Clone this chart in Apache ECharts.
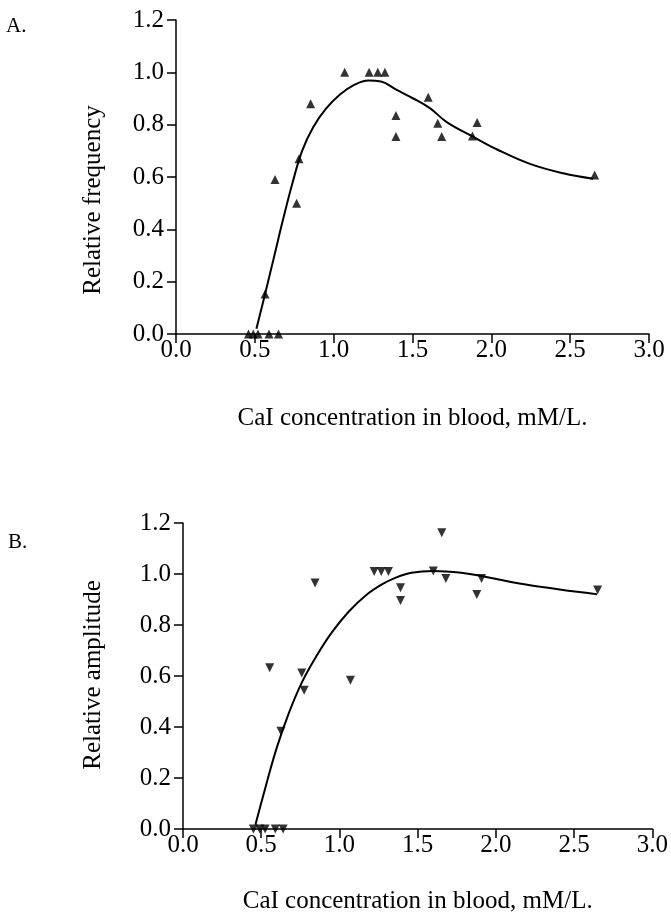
<!DOCTYPE html>
<html>
<head>
<meta charset="utf-8">
<script src="https://cdn.jsdelivr.net/npm/echarts@6/dist/echarts.min.js"></script>
<style>
  html, body { margin: 0; padding: 0; background: #fff; }
  #chart { width: 671px; height: 915px; }
</style>
</head>
<body>
<div id="chart"></div>
<script>
// A. relative frequency (measured points)
const freqX = [0.46, 0.49, 0.52, 0.59, 0.65, 0.565, 0.628, 0.765, 0.78, 0.854, 1.07, 1.225, 1.28, 1.325, 1.395, 1.395, 1.60, 1.66, 1.685, 1.88, 1.91, 2.655];
const freqY = [0, 0, 0, 0, 0, 0.153, 0.59, 0.50, 0.67, 0.88, 1.0, 1.0, 1.0, 1.0, 0.835, 0.755, 0.905, 0.805, 0.755, 0.757, 0.808, 0.608];
// A. fitted curve
const fitAX = [0.51, 0.565, 0.62, 0.68, 0.74, 0.80, 0.87, 0.95, 1.04, 1.13, 1.22, 1.30, 1.4, 1.505, 1.61, 1.717, 1.881, 2.034, 2.245, 2.456, 2.646];
const fitAY = [0.02, 0.153, 0.29, 0.44, 0.58, 0.70, 0.79, 0.86, 0.915, 0.952, 0.969, 0.965, 0.933, 0.90, 0.863, 0.81, 0.755, 0.706, 0.65, 0.614, 0.593];

// B. relative amplitude (measured points)
const ampX = [0.45, 0.49, 0.525, 0.59, 0.64, 0.554, 0.626, 0.759, 0.774, 0.844, 1.07, 1.222, 1.267, 1.313, 1.39, 1.39, 1.60, 1.654, 1.68, 1.878, 1.908, 2.65];
const ampY = [0, 0, 0, 0, 0, 0.632, 0.383, 0.612, 0.544, 0.965, 0.583, 1.01, 1.01, 1.01, 0.946, 0.896, 1.012, 1.162, 0.982, 0.92, 0.982, 0.937];
// B. fitted curve
const fitBX = [0.463, 0.53, 0.60, 0.68, 0.76, 0.85, 0.95, 1.06, 1.166, 1.271, 1.36, 1.46, 1.6, 1.779, 1.906, 2.096, 2.308, 2.519, 2.646];
const fitBY = [0.017, 0.17, 0.32, 0.46, 0.575, 0.675, 0.77, 0.853, 0.915, 0.959, 0.986, 1.005, 1.012, 1.005, 0.992, 0.969, 0.948, 0.93, 0.921];

const xTitle = 'CaI concentration in blood, mM/L.';
const font = 'Liberation Serif';

const pairs = (xs, ys) => xs.map((x, i) => [x, ys[i]]);

const axisCommon = {
  axisLine: { show: true, onZero: false, lineStyle: { color: '#000', width: 1.5 } },
  axisTick: { show: true, length: 9, lineStyle: { color: '#000', width: 1.5 } },
  splitLine: { show: false },
  axisLabel: {
    color: '#000', fontFamily: font, fontSize: 25,
    formatter: v => v.toFixed(1)
  }
};

function xAx(grid) {
  return Object.assign({}, axisCommon, {
    type: 'value', gridIndex: grid, min: 0, max: 3, interval: 0.5,
    name: xTitle, nameLocation: 'middle', nameGap: grid === 0 ? 72 : 60,
    nameTextStyle: { color: '#000', fontFamily: font, fontSize: 25 },
    axisLabel: Object.assign({}, axisCommon.axisLabel, { margin: 4 })
  });
}

function yAx(grid) {
  return Object.assign({}, axisCommon, {
    type: 'value', gridIndex: grid, min: 0, max: 1.2, interval: 0.2,
    axisLabel: Object.assign({}, axisCommon.axisLabel, { margin: 12 })
  });
}

let chart = echarts.init(document.getElementById('chart'));

chart.setOption({
  backgroundColor: '#fff',
  animation: false,
  grid: [
    { left: 176, right: 22, top: 20, height: 314 },
    { left: 183, right: 15, top: 523, height: 311 }
  ],
  xAxis: [xAx(0), xAx(1)],
  yAxis: [yAx(0), yAx(1)],
  graphic: [
    { type: 'text', left: 6, top: 16, style: { text: 'A.', font: '21px "Liberation Serif"', fill: '#000' } },
    { type: 'text', left: 8, top: 532, style: { text: 'B.', font: '21px "Liberation Serif"', fill: '#000' } },
    {
      type: 'text', x: 93, y: 200, rotation: Math.PI / 2,
      style: { text: 'Relative frequency', font: '25px "Liberation Serif"', fill: '#000', align: 'center', verticalAlign: 'middle' }
    },
    {
      type: 'text', x: 93, y: 675, rotation: Math.PI / 2,
      style: { text: 'Relative amplitude', font: '25px "Liberation Serif"', fill: '#000', align: 'center', verticalAlign: 'middle' }
    }
  ],
  series: [
    {
      type: 'line', xAxisIndex: 0, yAxisIndex: 0,
      data: pairs(fitAX, fitAY), smooth: 0.4, showSymbol: false,
      lineStyle: { color: '#000', width: 2 }, z: 2
    },
    {
      type: 'scatter', xAxisIndex: 0, yAxisIndex: 0,
      data: pairs(freqX, freqY), symbol: 'triangle', symbolSize: 9,
      itemStyle: { color: '#000' }, z: 3
    },
    {
      type: 'line', xAxisIndex: 1, yAxisIndex: 1,
      data: pairs(fitBX, fitBY), smooth: 0.4, showSymbol: false,
      lineStyle: { color: '#000', width: 2 }, z: 2
    },
    {
      type: 'scatter', xAxisIndex: 1, yAxisIndex: 1,
      data: pairs(ampX, ampY), symbol: 'triangle', symbolRotate: 180, symbolSize: 9,
      itemStyle: { color: '#000' }, z: 3
    }
  ]
});
</script>
</body>
</html>
